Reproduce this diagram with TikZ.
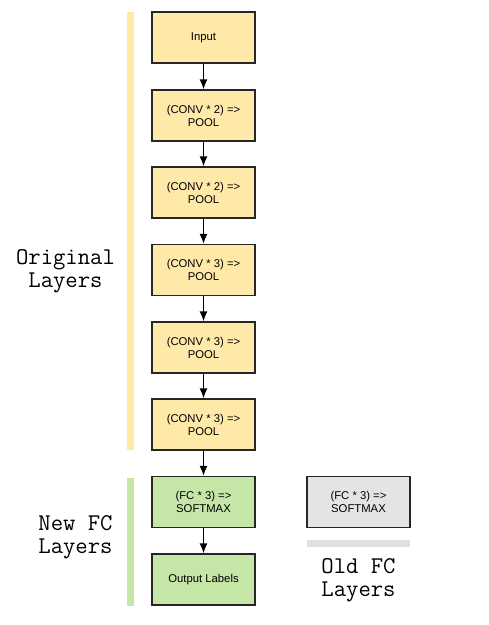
\documentclass[tikz,border=0pt]{standalone}
\usepackage{fontspec}
\setmainfont{Liberation Sans}
\usetikzlibrary{arrows.meta}
\definecolor{yfill}{HTML}{FFE9A8}
\definecolor{gfill}{HTML}{C6E6A8}
\definecolor{grfill}{HTML}{E4E4E4}
\definecolor{barY}{HTML}{FFEAA8}
\definecolor{barG}{HTML}{C6E6A8}
\definecolor{barGr}{HTML}{E0E0E0}
\begin{document}
\begin{tikzpicture}[x=1pt,y=-1pt,
  layer/.style={draw=black!85, line width=1.3pt, minimum width=103pt, minimum height=51pt, inner sep=0pt, align=center, font=\fontsize{11.3}{13}\selectfont},
  ylayer/.style={layer, fill=yfill},
  glayer/.style={layer, fill=gfill},
  graylayer/.style={layer, fill=grfill},
  conn/.style={-{Latex[length=10pt,width=8pt]}, line width=1.4pt, black},
  grp/.style={anchor=base, inner sep=0pt, font=\ttfamily\fontsize{24}{24}\selectfont}
]
\useasboundingbox (0,0) rectangle (489,625);
\fill[barY] (127,12) rectangle (134,450);
\fill[barG] (127,478) rectangle (134,606);
\fill[barGr] (307,540) rectangle (410,547);
\node[ylayer] (n1) at (203.5,37.5) {Input};
\node[ylayer] (n2) at (203.5,115.5) {(CONV * 2) =>\\POOL};
\node[ylayer] (n3) at (203.5,192.5) {(CONV * 2) =>\\POOL};
\node[ylayer] (n4) at (203.5,270) {(CONV * 3) =>\\POOL};
\node[ylayer] (n5) at (203.5,347.5) {(CONV * 3) =>\\POOL};
\node[ylayer] (n6) at (203.5,424.5) {(CONV * 3) =>\\POOL};
\node[glayer] (n7) at (203.5,502) {(FC * 3) =>\\SOFTMAX};
\node[glayer] (n8) at (203.5,579.5) {Output Labels};
\node[graylayer] (old) at (358.5,502) {(FC * 3) =>\\SOFTMAX};
\draw[conn] (n1) -- (n2);
\draw[conn] (n2) -- (n3);
\draw[conn] (n3) -- (n4);
\draw[conn] (n4) -- (n5);
\draw[conn] (n5) -- (n6);
\draw[conn] (n6) -- (n7);
\draw[conn] (n7) -- (n8);
\node[grp] (lorig1) at (65.5,264.5) {Original};
\node[grp] (lorig2) at (65.5,287.5) {Layers};
\node[grp] (lnew1) at (75.5,530.5) {New FC};
\node[grp] (lnew2) at (75.5,553.5) {Layers};
\node[grp] (lold1) at (358.5,573) {Old FC};
\node[grp] (lold2) at (358.5,596) {Layers};
\end{tikzpicture}
\end{document}
